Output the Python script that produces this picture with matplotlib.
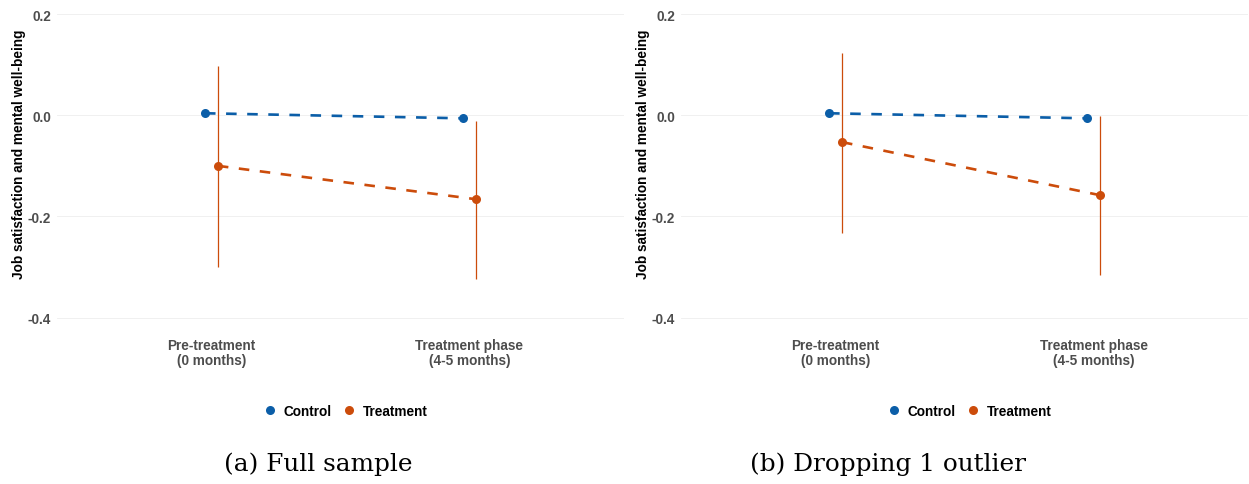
import matplotlib
matplotlib.use("Agg")
import matplotlib.pyplot as plt
from matplotlib.lines import Line2D
import numpy as np

# data
phases = ["Pre-treatment\n(0 months)", "Treatment phase\n(4-5 months)"]
groups = ["Control", "Treatment"]
y_ticks = [0.2, 0.0, -0.2, -0.4]

# panel (a): full sample
a_control = [0.004, -0.006]
a_treat = [-0.100, -0.166]
a_treat_lo = [-0.300, -0.323]
a_treat_hi = [0.097, -0.012]

# panel (b): dropping 1 outlier
b_control = [0.004, -0.006]
b_treat = [-0.053, -0.158]
b_treat_lo = [-0.232, -0.315]
b_treat_hi = [0.124, -0.001]

captions = ["(a) Full sample", "(b) Dropping 1 outlier"]

BLUE = "#0b5ea8"
ORANGE = "#cc4c0b"
TICK_C = "#4d4d4d"
SANS = ["Liberation Sans", "DejaVu Sans"]

W, H = 1249, 485
fig = plt.figure(figsize=(W / 100, H / 100), dpi=100)


def panel(left_px, control, treat, lo, hi):
    ax = fig.add_axes([left_px / W, 1 - 333.7 / H, 567.7 / W, 333.7 / H])
    x = np.arange(1, len(phases) + 1)
    dodge = 0.025
    xc, xt = x - dodge, x + dodge
    ax.plot(xc, control, color=BLUE, lw=1.9, dashes=(4, 4), zorder=2)
    ax.plot(xt, treat, color=ORANGE, lw=1.9, dashes=(4, 4), zorder=2)
    ax.vlines(xt, lo, hi, color=ORANGE, lw=0.9, zorder=3)
    ax.plot(xc, control, "o", color=BLUE, ms=6.5, mec="none", zorder=4)
    ax.plot(xt, treat, "o", color=ORANGE, ms=6.5, mec="none", zorder=4)

    ax.set_xlim(0.4, 2.6)
    ax.set_ylim(-0.43, 0.23)
    ax.set_yticks(y_ticks)
    ax.set_yticklabels([f"{v:.1f}" for v in y_ticks])
    ax.set_xticks(x)
    ax.set_xticklabels(phases, linespacing=1.1)
    ax.tick_params(length=0, labelcolor=TICK_C, labelsize=9.8)
    ax.tick_params(axis="y", pad=4.0)
    ax.tick_params(axis="x", pad=3.5)
    for lab in ax.get_xticklabels() + ax.get_yticklabels():
        lab.set_fontweight("bold")
        lab.set_family(SANS)
    for s in ax.spines.values():
        s.set_visible(False)
    ax.grid(axis="y", color="#eeeeee", lw=0.6)
    ax.set_axisbelow(True)
    ax.set_ylabel("Job satisfaction and mental well-being", fontsize=9.8,
                  fontweight="bold", family=SANS, color="black", va="center")
    ax.yaxis.set_label_coords(-0.066, 0.537)
    return ax


ax_a = panel(56.6, a_control, a_treat, a_treat_lo, a_treat_hi)
ax_b = panel(680.7, b_control, b_treat, b_treat_lo, b_treat_hi)

handles = [Line2D([], [], ls="none", marker="o", ms=6.5, mec="none", color=c)
           for c in (BLUE, ORANGE)]
for cx, cap_x, cap in [(346, 318, captions[0]), (970, 887.5, captions[1])]:
    leg = fig.legend(handles, groups, loc="center", ncol=2, frameon=False,
                     bbox_to_anchor=(cx / W, 1 - 412 / H),
                     handlelength=0.8, handletextpad=0.6, columnspacing=0.9,
                     prop={"family": SANS, "weight": "bold", "size": 9.8})
    fig.text(cap_x / W, 1 - 464 / H, cap, ha="center", va="center",
             family="DejaVu Serif", fontsize=17.8)

fig.savefig("out.png", dpi=100)
